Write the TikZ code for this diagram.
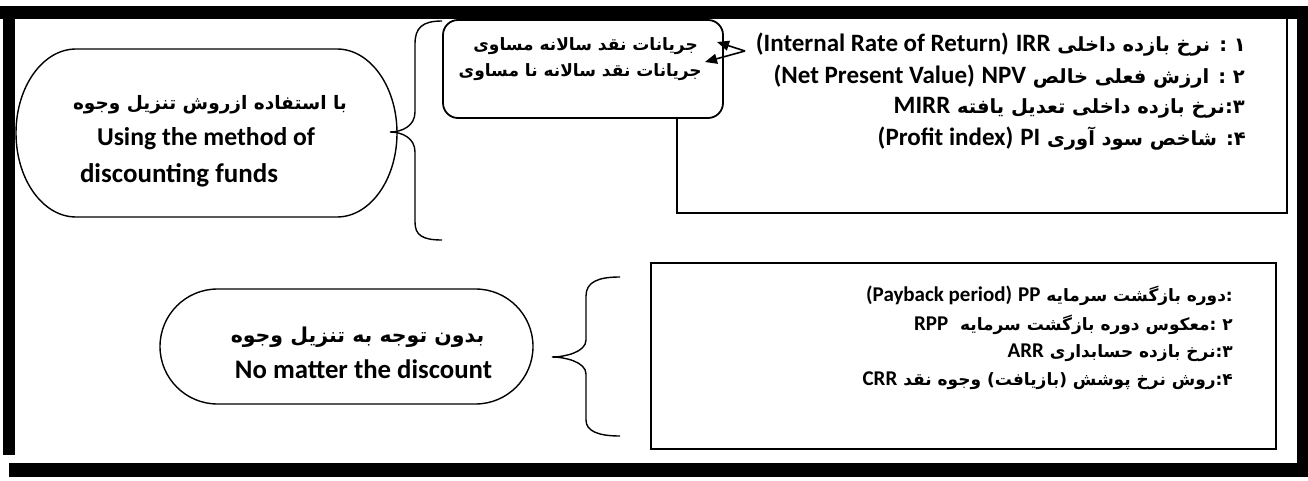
\documentclass[tikz,border=0pt]{standalone}
\usepackage{fontspec}
\usepackage{graphicx}
\setmainfont{Carlito}
\newfontfamily\enf{Carlito}
\newfontfamily\fa[Script=Arabic]{DejaVu Sans}
\TeXXeTstate=1
\usetikzlibrary{arrows.meta}
% Latin run inside a right-to-left line, at the size given by \ensz
\def\ensz{20}
\newcommand\Lrun[1]{\beginL{\enf\bfseries\fontsize{\ensz}{\ensz}\selectfont #1}\endL}
% set a Latin label to a fixed width
\newcommand\fitw[2]{\resizebox{#1}{!}{#2}}
\tikzset{
  thin line/.style={line width=1.4pt, black},
  box line/.style={line width=1.8pt, black},
  bar/.style={fill=black, draw=none},
  toprow/.style={anchor=east, inner sep=0pt, font=\def\ensz{25}\fa\bfseries\fontsize{19.5}{23}\selectfont},
  lowrow/.style={anchor=east, inner sep=0pt, font=\def\ensz{21}\fa\bfseries\fontsize{17}{20}\selectfont},
  flow/.style={anchor=east, inner sep=0pt, font=\fa\bfseries\fontsize{17}{20}\selectfont},
  pilltext/.style={inner sep=0pt, font=\enf\bfseries\fontsize{26}{30}\selectfont},
  arr/.style={line width=1.6pt, -{Triangle[length=12pt,width=10pt]}},
}
\begin{document}
\begin{tikzpicture}[x=1pt,y=-1pt]
\useasboundingbox (0,0) rectangle (1308,481);
\fill[white] (0,0) rectangle (1308,481);

% method lists
\draw[box line] (677,18) rectangle (1287,213);
\draw[box line] (651,263) rectangle (1276,449);

% cash-flow note box
\node[draw, box line, fill=white, rounded corners=15pt, minimum width=280pt, minimum height=98pt] (cf) at (583,69) {};

% discounted methods pill
\draw[thin line] (76,49) -- (337,49)
  arc[start angle=-90, end angle=90, x radius=60, y radius=84] -- (76,217)
  arc[start angle=90, end angle=270, x radius=60, y radius=84] -- cycle;

% non-discounted methods pill
\node[draw, thin line, rounded corners=57.5pt, minimum width=373pt, minimum height=115pt] (nd) at (346.5,346.5) {};

% braces
\draw[thin line] (442,21) .. controls (422,21) and (415,28) .. (415,44) -- (415,112)
  .. controls (415,126) and (402,132) .. (390,132)
  .. controls (402,132) and (415,138) .. (415,152) -- (415,222)
  .. controls (415,235) and (422,240) .. (442,240);
\draw[thin line] (620,277) .. controls (598,277) and (586,282) .. (586,296) -- (586,340)
  .. controls (586,352) and (565,357) .. (552,357)
  .. controls (565,357) and (586,362) .. (586,374) -- (586,420)
  .. controls (586,431) and (598,436) .. (620,436);

% pill texts
\node[inner sep=0pt, font=\fa\bfseries\fontsize{18.5}{22}\selectfont] (d1) at (210,105) {\beginR با استفاده ازروش تنزیل وجوه\endR};
\node[pilltext] (d2) at (206,139) {\fitw{218pt}{Using the method of}};
\node[pilltext] (d3) at (179,175) {\fitw{198pt}{discounting funds}};
\node[inner sep=0pt, font=\fa\bfseries\fontsize{20.5}{24}\selectfont] (n1) at (357.5,337) {\beginR بدون توجه به تنزیل وجوه\endR};
\node[pilltext] (n2) at (363.5,369) {\fitw{257pt}{No matter the discount}};

% cash-flow texts
\node[flow] (cf1) at (698,46) {\beginR جریانات نقد سالانه مساوی\endR};
\node[flow] (cf2) at (702,72) {\beginR جریانات نقد سالانه نا مساوی\endR};

% discounted methods
\node[toprow] (t1) at (1246,45) {\beginR ۱ : نرخ بازده داخلی \Lrun{IRR} \Lrun{(Internal Rate of Return)}\endR};
\node[toprow] (t2) at (1245,77) {\beginR ۲ : ارزش فعلی خالص \Lrun{NPV} \Lrun{(Net Present Value)}\endR};
\node[toprow] (t3) at (1245,108) {\beginR ۳:نرخ بازده داخلی تعدیل یافته \Lrun{MIRR}\endR};
\node[toprow] (t4) at (1246,139) {\beginR ۴: شاخص سود آوری \Lrun{PI} \Lrun{(Profit index)}\endR};

% non-discounted methods
\node[lowrow] (b1) at (1233,296) {\beginR :دوره بازگشت سرمایه \Lrun{PP} \Lrun{(Payback period)}\endR};
\node[lowrow] (b2) at (1233,325) {\beginR ۲ :معکوس دوره بازگشت سرمایه \ \Lrun{RPP}\endR};
\node[lowrow] (b3) at (1233,353) {\beginR ۳:نرخ بازده حسابداری \Lrun{ARR}\endR};
\node[lowrow] (b4) at (1233,381) {\beginR ۴:روش نرخ پوشش (بازیافت) وجوه نقد \Lrun{CRR}\endR};

% arrows from IRR to the two cash-flow cases
\coordinate (fork) at (745,51);
\draw[arr] (fork) -- ([xshift=19pt,yshift=4pt]cf1.east);
\draw[arr] (fork) -- ([xshift=3pt,yshift=10pt]cf2.east);

% heavy frame
\fill[bar] (0,6) rectangle (1308,19);
\fill[bar] (3,9) rectangle (15,455);
\fill[bar] (1297,12) rectangle (1308,477);
\fill[bar] (9,463) rectangle (1297,477);
\end{tikzpicture}
\end{document}
